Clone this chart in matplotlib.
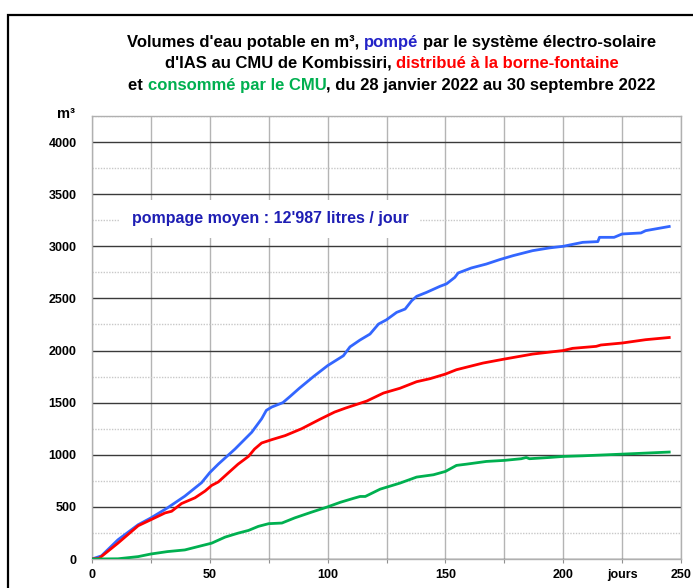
import matplotlib
matplotlib.use('Agg')
import matplotlib.pyplot as plt
from matplotlib.patches import Rectangle
from matplotlib.ticker import MultipleLocator

plt.rcParams['font.family'] = ['Liberation Sans', 'DejaVu Sans']

# ---- data (days since 28 Jan 2022, cumulative m3) ----
jours_pompe = [0, 2, 4, 11, 19.6, 25, 32, 39.4, 46.5, 50, 53.6, 60.7, 67.8, 72, 74, 76.3,
               81, 84, 88, 94, 100, 106.7, 109.5, 113.7, 118, 121.6, 125, 129.3, 132.9,
               135.7, 137.8, 142, 147.7, 150.5, 154, 155.4, 161, 167.4, 173, 178.7, 187,
               194, 200, 208.3, 214.7, 215.4, 221.6, 225, 233, 235, 245]
pompe = [0, 15, 30, 184, 329, 394, 490, 603, 732, 829, 910, 1055, 1216, 1345, 1426, 1458,
         1500, 1558, 1638, 1750, 1855, 1950, 2035, 2100, 2158, 2254, 2295, 2366, 2398,
         2478, 2520, 2558, 2616, 2640, 2702, 2744, 2792, 2830, 2872, 2910, 2958,
         2984, 3000, 3038, 3045, 3086, 3086, 3118, 3128, 3150, 3190]

jours_distribue = [0, 3, 11, 19.6, 25, 31, 33.8, 38, 43.7, 48, 50.8, 53.6, 58, 62, 66.4,
                   69, 72, 76.3, 82, 89, 96.7, 103, 107.5, 116.6, 123.7, 130.7, 137.8,
                   143.5, 150, 154.7, 166, 175, 187, 200, 204, 214, 216, 225, 235, 245]
distribue = [0, 6, 152, 319, 377, 442, 458, 532, 587, 652, 706, 739, 829, 910, 984,
             1055, 1113, 1145, 1184, 1250, 1340, 1410, 1447, 1515, 1592, 1638, 1701,
             1730, 1774, 1816, 1880, 1918, 1966, 2000, 2021, 2040, 2053, 2072, 2104, 2125]

jours_consomme = [0, 11, 19.6, 25, 32, 39.4, 45, 50.8, 56.5, 62, 66.4, 70.6, 75, 80.6, 86,
                  93, 100, 105.4, 111, 113.8, 116, 122.3, 130.7, 137.8, 144.9, 150, 154.7,
                  159, 167.4, 175, 182.2, 184.3, 185.7, 194.2, 200, 208.3, 225, 245]
consomme = [0, 2, 23, 48, 71, 87, 119, 152, 210, 248, 274, 313, 339, 345, 394,
            448, 500, 544, 582, 600, 600, 670, 728, 786, 808, 840, 898,
            910, 936, 946, 962, 974, 962, 974, 984, 990, 1006, 1026]

x_ticks = [0, 25, 50, 75, 100, 125, 150, 175, 200, 225, 250]
x_tick_labels = ['0', '', '50', '', '100', '', '150', '', '200', 'jours', '250']
y_ticks = [0, 500, 1000, 1500, 2000, 2500, 3000, 3500, 4000]
y_tick_labels = [str(v) for v in y_ticks]

title_lines = [
    [("Volumes d'eau potable en m³, ", '#000000'), ("pompé", '#2323C8'),
     (" par le système électro-solaire", '#000000')],
    [("d'IAS au CMU de Kombissiri, ", '#000000'), ("distribué à la borne-fontaine", '#FF0000')],
    [("et ", '#000000'), ("consommé par le CMU", '#00B050'),
     (", du 28 janvier 2022 au 30 septembre 2022", '#000000')],
]
annotation = "pompage moyen : 12'987 litres / jour"

# ---- figure ----
W, H = 693, 588
fig = plt.figure(figsize=(W / 100, H / 100), dpi=100)
ax = fig.add_axes([92 / W, 1 - 559 / H, (681 - 92) / W, (559 - 116) / H])
ax.set_xlim(0, 250)
ax.set_ylim(0, 4250)

ax.set_xticks(x_ticks)
ax.set_xticklabels(x_tick_labels, fontsize=9, fontweight='bold')
ax.set_yticks(y_ticks)
ax.set_yticklabels(y_tick_labels, fontsize=9, fontweight='bold')
ax.yaxis.set_minor_locator(MultipleLocator(250))
ax.tick_params(axis='x', length=3, color='#909090', pad=4)
ax.tick_params(axis='y', which='major', length=0, pad=11, right=True)
ax.tick_params(axis='y', which='minor', length=0)

ax.grid(axis='x', color='#B4B4B4', lw=1.0)
ax.grid(axis='y', which='major', color='#3A3A3A', lw=1.0)
ax.grid(axis='y', which='minor', color='#C8C8C8', lw=1.0, linestyle=(0, (1, 1)))
ax.set_axisbelow(True)
for s in ax.spines.values():
    s.set_color('#B0B0B0')
    s.set_linewidth(1.0)

ax.plot(jours_pompe, pompe, color='#3366FF', lw=2.0, zorder=3)
ax.plot(jours_distribue, distribue, color='#FF0000', lw=2.0, zorder=3)
ax.plot(jours_consomme, consomme, color='#00B050', lw=2.0, zorder=3)

ax.text(75.5, 3262, annotation, ha='center', va='center', fontsize=11.5, fontweight='bold',
        color='#1E1EB4', zorder=4,
        bbox=dict(facecolor='white', edgecolor='none', pad=8))

fig.text(66 / W, 1 - 118 / H, 'm³', ha='center', va='baseline', fontsize=10.5, fontweight='bold')

# outer frame
fig.patches.append(Rectangle((8 / W, -0.2), 1.2, 1.2 - 15 / H, transform=fig.transFigure,
                             fill=False, edgecolor='black', lw=1.6))

# multicolour title
renderer = fig.canvas.get_renderer()
tsize = 12


def width(s):
    t = fig.text(0, 0, s, fontsize=tsize, fontweight='bold')
    w = t.get_window_extent(renderer).width
    t.remove()
    return w


cx = 392
baselines = [47, 68, 90]
for line, yb in zip(title_lines, baselines):
    full = ''.join(s for s, c in line)
    wf = width(full)
    left = cx - wf / 2
    prefix = ''
    refw = width('I')
    for s, c in line:
        stripped = s.lstrip(' ')
        lead = s[:len(s) - len(stripped)]
        pre = prefix + lead
        off = (width(pre + 'I') - refw) if pre else 0
        fig.text((left + off) / W, 1 - yb / H, stripped, ha='left', va='baseline',
                 fontsize=tsize, fontweight='bold', color=c)
        prefix += s

fig.savefig('out.png', dpi=100)
